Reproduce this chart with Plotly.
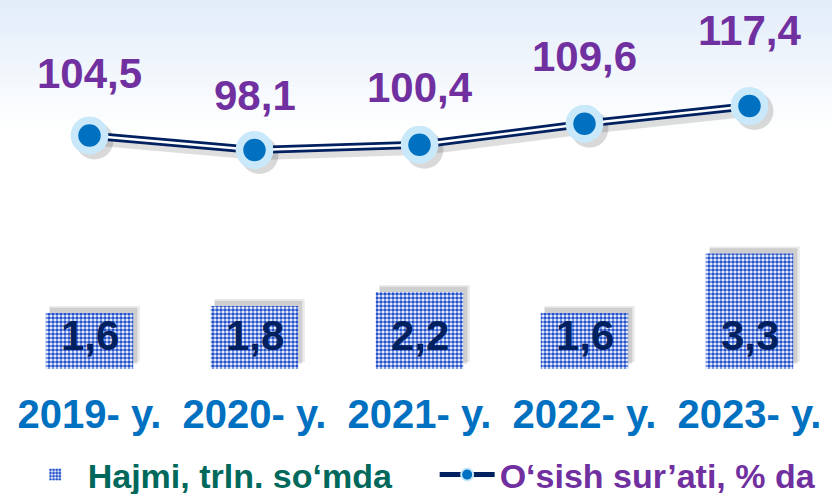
import plotly.graph_objects as go

# data
years = ["2019- y.", "2020- y.", "2021- y.", "2022- y.", "2023- y."]
volume = [1.6, 1.8, 2.2, 1.6, 3.3]          # Hajmi, trln. so'mda
growth = [104.5, 98.1, 100.4, 109.6, 117.4]  # O'sish sur'ati, % da

vol_name = "Hajmi, trln. so\u2018mda"
growth_name = "O\u2018sish sur\u2019ati, % da"


def fmt(v):
    return f"{v:.1f}".replace(".", ",")


FONT = "Liberation Sans, Arial, sans-serif"
PURPLE = "#7030a0"
NAVY = "#002060"
BLUE = "#0070c0"
TEAL = "#00695c"

W, H = 832, 494
L, B = 7, 125
plot_h = H - B
bar_w = 0.53
y_rng = [0, 10.54]
y_line = [2.05, 163.9]
y_labels = [16.7, 126.5]  # labels above the line are spread a bit more than the points
sh = 2.2  # shadow shift (axis units) for the line

fig = go.Figure()

# soft shadows behind the bars
fig.add_trace(go.Bar(x=years, y=volume, base=0.2, width=bar_w + 0.02, offset=-bar_w / 2 + 0.02,
                     marker=dict(color="rgba(0,0,0,0.08)", line_width=0),
                     hoverinfo="skip", showlegend=False))
fig.add_trace(go.Bar(x=years, y=volume, base=0.15, width=bar_w, offset=-bar_w / 2 + 0.025,
                     marker=dict(color="rgba(0,0,0,0.12)", line_width=0),
                     hoverinfo="skip", showlegend=False))

fig.add_trace(go.Bar(
    x=years, y=volume,
    name=f'<span style="color:{TEAL}">{vol_name}</span>' + "&nbsp;" * 4,
    width=bar_w, offset=-bar_w / 2,
    marker=dict(color="white", line_width=0,
                pattern=dict(shape=".", fgcolor="#2452cc", bgcolor="white",
                             size=4, solidity=0.65, fillmode="replace")),
))

# value labels near the bottom of each bar
for yr, v in zip(years, volume):
    fig.add_annotation(x=yr, y=0, xref="x", yref="y", text=fmt(v), showarrow=False,
                       yanchor="bottom", yshift=8,
                       font=dict(family=FONT, size=42, color=NAVY, weight="bold"))

# shadow under the growth line
fig.add_trace(go.Scatter(x=years, y=growth, xaxis="x2", yaxis="y2", mode="lines+markers",
                         line=dict(color="rgba(0,0,0,0.13)", width=10),
                         marker=dict(size=38, color="rgba(0,0,0,0.15)"),
                         hoverinfo="skip", showlegend=False))

marker_style = dict(size=30, color=BLUE, line=dict(color="#c9e9fb", width=7.5))
fig.add_trace(go.Scatter(x=years, y=growth, xaxis="x3", yaxis="y3", mode="lines+markers",
                         name=f'<span style="color:{PURPLE}">{growth_name}</span>',
                         line=dict(color=NAVY, width=8), marker=marker_style))
fig.add_trace(go.Scatter(x=years, y=growth, xaxis="x3", yaxis="y3", mode="lines",
                         line=dict(color="white", width=2.5),
                         hoverinfo="skip", showlegend=False))
fig.add_trace(go.Scatter(x=years, y=growth, xaxis="x3", yaxis="y3", mode="markers",
                         marker=marker_style, hoverinfo="skip", showlegend=False))

for yr, g in zip(years, growth):
    fig.add_annotation(x=yr, y=g, xref="x3", yref="y4", text=fmt(g), showarrow=False,
                       yanchor="middle",
                       font=dict(family=FONT, size=42, color=PURPLE, weight="bold"))

# light blue gradient at the top
n = 26
for i in range(n):
    t = i / n
    c = (int(226 + (255 - 226) * t), int(237 + (255 - 237) * t), int(250 + (255 - 250) * t))
    fig.add_shape(type="rect", xref="paper", yref="paper", layer="below",
                  x0=-0.01, x1=1.01, y0=1 - (i + 1) * 5 / plot_h, y1=1 - i * 5 / plot_h + 0.01,
                  fillcolor=f"rgb{c}", line_width=0)

cat_rng = [-0.5, 4.5]
fig.update_layout(
    width=W, height=H, margin=dict(l=L, r=0, t=0, b=B, autoexpand=False),
    paper_bgcolor="white", plot_bgcolor="rgba(0,0,0,0)",
    barmode="overlay", showlegend=True,
    font=dict(family=FONT),
    xaxis=dict(type="category", range=cat_rng, showgrid=False, showline=False, ticks="",
               ticklabelstandoff=18, automargin=False,
               tickfont=dict(family=FONT, size=40, color=BLUE, weight="bold")),
    yaxis=dict(range=y_rng, visible=False, showgrid=False),
    xaxis2=dict(type="category", overlaying="x", range=[cat_rng[0] - 0.03, cat_rng[1] - 0.03],
                visible=False),
    yaxis2=dict(overlaying="y", range=[y_line[0] + sh, y_line[1] + sh], visible=False),
    xaxis3=dict(type="category", overlaying="x", range=cat_rng, visible=False),
    yaxis3=dict(overlaying="y", range=y_line, visible=False),
    yaxis4=dict(overlaying="y", range=y_labels, visible=False),
    legend=dict(orientation="h", x=0.019, xanchor="left", y=-(475 - plot_h) / plot_h,
                yanchor="middle", bgcolor="rgba(0,0,0,0)", itemsizing="constant",
                itemwidth=55,
                font=dict(family=FONT, size=34, weight="bold"), traceorder="normal"),
)

# the page body has a default 8px margin; remove it so the figure sits at the corner
fig.write_html("out.html", config={"displayModeBar": False},
               post_script="document.body.style.margin='0';")
